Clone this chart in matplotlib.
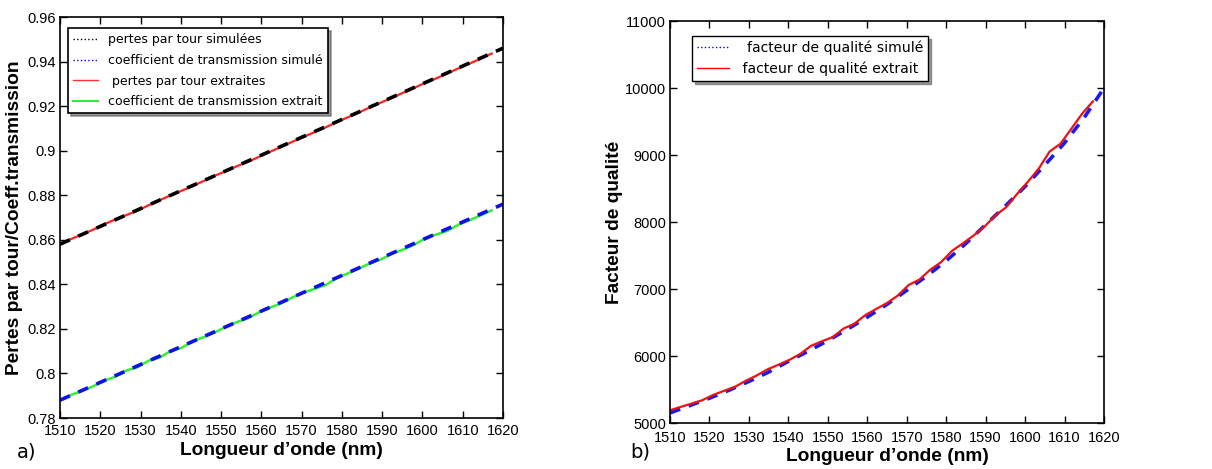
import matplotlib.pyplot as plt
from matplotlib.lines import Line2D
from matplotlib import font_manager

# wavelengths (nm)
lam_sim = [1510, 1515, 1520, 1525, 1530, 1535, 1540, 1545, 1550, 1555, 1560, 1565,
           1570, 1575, 1580, 1585, 1590, 1595, 1600, 1605, 1610, 1615, 1620]
lam_ext = [1510.0, 1512.7, 1515.5, 1518.2, 1521.0, 1523.7, 1526.5, 1529.2, 1532.0, 1534.7,
           1537.5, 1540.2, 1543.0, 1545.7, 1548.5, 1551.2, 1554.0, 1556.7, 1559.5, 1562.2,
           1565.0, 1567.7, 1570.5, 1573.2, 1576.0, 1578.7, 1581.5, 1584.2, 1587.0, 1589.7,
           1592.5, 1595.2, 1598.0, 1600.7, 1603.5, 1606.2, 1609.0, 1611.7, 1614.5, 1617.2]

# panel a)
pertes_sim = [0.858, 0.862, 0.866, 0.870, 0.874, 0.878, 0.882, 0.886, 0.890, 0.894, 0.898, 0.902,
              0.906, 0.910, 0.914, 0.918, 0.922, 0.926, 0.930, 0.934, 0.938, 0.942, 0.946]
coef_sim = [0.788, 0.792, 0.796, 0.800, 0.804, 0.808, 0.812, 0.816, 0.820, 0.824, 0.828, 0.832,
            0.836, 0.840, 0.844, 0.848, 0.852, 0.856, 0.860, 0.864, 0.868, 0.872, 0.876]
pertes_ext = [0.8580, 0.8603, 0.8624, 0.8645, 0.8670, 0.8691, 0.8711, 0.8730, 0.8755, 0.8777,
              0.8800, 0.8820, 0.8842, 0.8864, 0.8888, 0.8908, 0.8931, 0.8950, 0.8973, 0.8995,
              0.9018, 0.9040, 0.9062, 0.9083, 0.9105, 0.9128, 0.9150, 0.9171, 0.9195, 0.9216,
              0.9238, 0.9260, 0.9282, 0.9305, 0.9325, 0.9347, 0.9370, 0.9391, 0.9413, 0.9436]
coef_ext = [0.7880, 0.7903, 0.7922, 0.7942, 0.7968, 0.7985, 0.8013, 0.8028, 0.8057, 0.8071,
            0.8101, 0.8115, 0.8145, 0.8163, 0.8184, 0.8210, 0.8231, 0.8248, 0.8275, 0.8296,
            0.8315, 0.8341, 0.8363, 0.8380, 0.8397, 0.8428, 0.8449, 0.8471, 0.8494, 0.8512,
            0.8538, 0.8556, 0.8578, 0.8607, 0.8624, 0.8640, 0.8668, 0.8688, 0.8710, 0.8732]

# panel b)
q_sim = [5150, 5260, 5370, 5490, 5620, 5760, 5920, 6070, 6230, 6400, 6580, 6770,
         6980, 7190, 7420, 7680, 7960, 8240, 8530, 8850, 9180, 9560, 10000]
q_ext = [5190, 5240, 5290, 5340, 5420, 5480, 5540, 5630, 5710, 5800,
         5870, 5940, 6030, 6150, 6220, 6280, 6410, 6480, 6610, 6700,
         6790, 6900, 7060, 7140, 7290, 7400, 7570, 7680, 7800, 7930,
         8100, 8220, 8420, 8600, 8800, 9050, 9170, 9390, 9620, 9800]

xticks = list(range(1510, 1621, 10))

# the reference text looks tall and narrow: use the narrow Liberation face if present
names = {f.name for f in font_manager.fontManager.ttflist}
if 'Liberation Sans Narrow' in names:
    lab_font, tick_size, lab_size = 'Liberation Sans Narrow', 12, 15
else:
    lab_font, tick_size, lab_size = 'Liberation Sans', 10.5, 13.8

W, H = 1212, 469
fig = plt.figure(figsize=(W / 100, H / 100), dpi=100)
axa = fig.add_axes([60 / W, 1 - 418 / H, 443 / W, 401 / H])
axb = fig.add_axes([670 / W, 1 - 423 / H, 434 / W, 402 / H])


def style(ax, xpad, xlabpad):
    ax.set_xlim(1510, 1620)
    ax.set_xticks(xticks)
    ax.tick_params(direction='in', top=True, right=True, length=5, width=1,
                   labelsize=tick_size, pad=3)
    ax.tick_params(axis='x', pad=xpad)
    for lab in ax.get_xticklabels() + ax.get_yticklabels():
        lab.set_family(lab_font)
    for sp in ax.spines.values():
        sp.set_linewidth(1.2)
    ax.set_xlabel("Longueur d\u2019onde (nm)", family=lab_font, weight='bold',
                  fontsize=lab_size, labelpad=xlabpad)


# a)
axa.plot(lam_ext, pertes_ext, color='#ff2020', lw=1.6)
axa.plot(lam_sim, pertes_sim, color='black', lw=2.6, ls=(0, (3, 2.5)))
axa.plot(lam_ext, coef_ext, color='#33ee33', lw=1.8)
axa.plot(lam_sim, coef_sim, color='#1010ee', lw=2.6, ls=(0, (3, 2.5)))
axa.set_ylim(0.78, 0.96)
axa.set_yticks([0.78, 0.8, 0.82, 0.84, 0.86, 0.88, 0.9, 0.92, 0.94, 0.96])
axa.set_yticklabels(['0.78', '0.8', '0.82', '0.84', '0.86', '0.88', '0.9', '0.92', '0.94', '0.96'])
style(axa, 4.5, 3)
axa.set_ylabel('Pertes par tour/Coeff.transmission', family=lab_font, weight='bold',
               fontsize=lab_size, labelpad=3)
h_a = [Line2D([], [], color='black', ls=':', lw=1),
       Line2D([], [], color='blue', ls=':', lw=1),
       Line2D([], [], color='#ff3030', lw=1),
       Line2D([], [], color='#33ee33', lw=1.5)]
l_a = [' pertes par tour simulées', ' coefficient de transmission simulé',
       '  pertes par tour extraites', ' coefficient de transmission extrait']
leg = axa.legend(h_a, l_a, loc='upper left', bbox_to_anchor=(0.018, 0.972),
                 fontsize=9.0, frameon=True, fancybox=False,
                 shadow={'color': '0.35', 'alpha': 0.6},
                 edgecolor='black', framealpha=1, borderaxespad=0,
                 handlelength=2.0, handletextpad=0.5, labelspacing=0.62,
                 borderpad=0.4)
leg.get_frame().set_linewidth(1.2)

# b)
axb.plot(lam_sim, q_sim, color='#1a1aee', lw=2.6, ls=(0, (3, 2.5)))
axb.plot(lam_ext, q_ext, color='#ee1111', lw=1.6)
axb.set_ylim(5000, 11000)
axb.set_yticks(range(5000, 11001, 1000))
style(axb, 6, 2)
axb.set_ylabel('Facteur de qualité', family=lab_font, weight='bold',
               fontsize=lab_size, labelpad=1)
h_b = [Line2D([], [], color='blue', ls=':', lw=1),
       Line2D([], [], color='red', lw=1)]
l_b = ['  facteur de qualité simulé', ' facteur de qualité extrait']
leg = axb.legend(h_b, l_b, loc='upper left', bbox_to_anchor=(0.051, 0.963),
                 fontsize=10.1, frameon=True, fancybox=False,
                 shadow={'color': '0.35', 'alpha': 0.6},
                 edgecolor='black', framealpha=1, borderaxespad=0,
                 handlelength=2.3, handletextpad=0.6, labelspacing=0.45,
                 borderpad=0.35)
leg.get_frame().set_linewidth(1.0)

fig.text(27 / W, 1 - 452 / H, 'a)', fontsize=14, ha='center', va='center')
fig.text(640 / W, 1 - 452 / H, 'b)', fontsize=14, ha='center', va='center')

fig.savefig('out.png', dpi=100)
